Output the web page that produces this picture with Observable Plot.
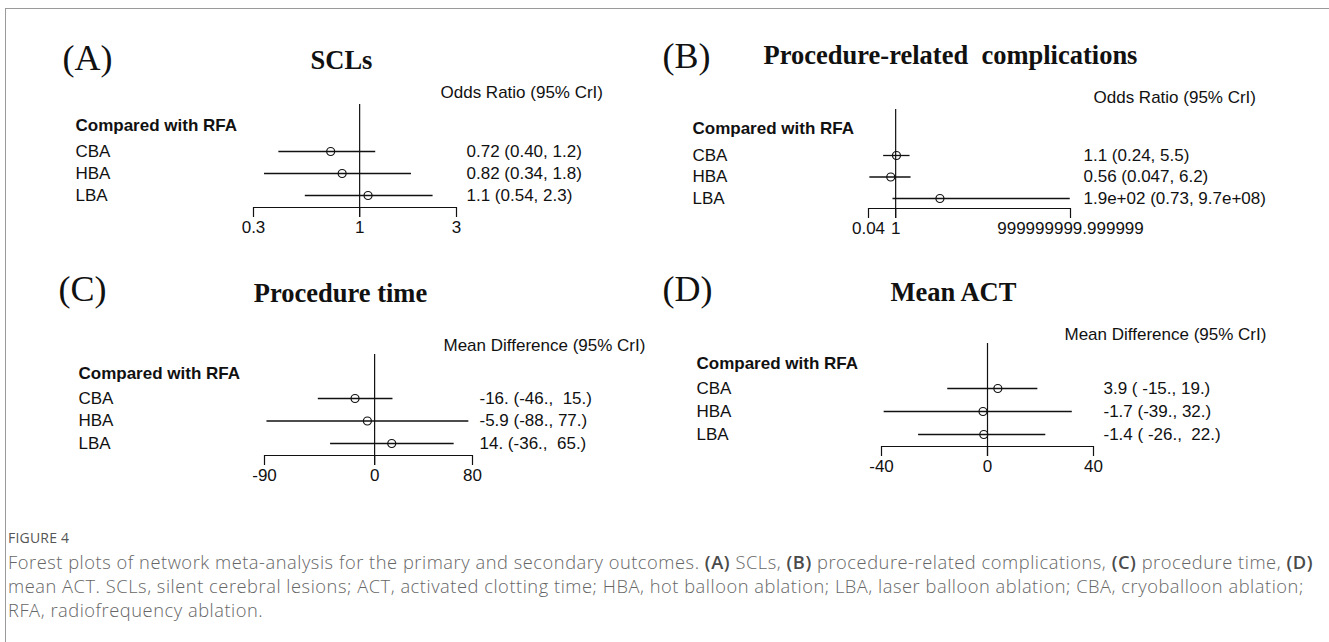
<!DOCTYPE html>
<html>
<head>
<meta charset="utf-8">
<script src="https://cdn.jsdelivr.net/npm/d3@7"></script>
<script src="https://cdn.jsdelivr.net/npm/@observablehq/plot@0.6"></script>
<style>
  html, body { margin: 0; padding: 0; background: #fff; }
  #page { position: relative; width: 1329px; height: 642px; overflow: hidden; background: #fff; }
  #topline { position: absolute; left: 5px; top: 8px; width: 1324px; height: 1px; background: #9a9a9a; }
  #leftline { position: absolute; left: 5px; top: 8px; width: 1px; height: 634px; background: #9a9a9a; }
  .panel { position: absolute; }
  .panel svg text { white-space: pre; }
  #caption { position: absolute; left: 8px; top: 524px; font-family: "Open Sans", "Noto Sans", sans-serif; color: #666; }
  #caption .fig { font-size: 14px; height: 24px; line-height: 24px; letter-spacing: 0.2px; color: #555; }
  #caption .fig span { display: inline-block; height: 17px; line-height: 17px; vertical-align: middle; }
  #caption .line { font-size: 16px; height: 24px; line-height: 24px; white-space: pre; font-weight: 300; }
  #caption .line span { display: inline-block; height: 18px; line-height: 18px; vertical-align: middle; white-space: pre; }
  #caption .b { font-weight: 600; color: #4a4a4a; }
</style>
</head>
<body>
<div id="page">
  <div id="topline"></div>
  <div id="leftline"></div>
  <div id="pA" class="panel"></div>
  <div id="pB" class="panel"></div>
  <div id="pC" class="panel"></div>
  <div id="pD" class="panel"></div>
  <div id="caption">
    <div class="fig"><span>FIGURE 4</span></div>
    <div class="line" id="line1"><span>Forest plots of network meta-analysis for the primary and secondary outcomes. </span><span class="b">(A)</span><span> SCLs, </span><span class="b">(B)</span><span> procedure-related complications, </span><span class="b">(C)</span><span> procedure time, </span><span class="b">(D)</span></div>
    <div class="line"><span>mean ACT. SCLs, silent cerebral lesions; ACT, activated clotting time; HBA, hot balloon ablation; LBA, laser balloon ablation; CBA, cryoballoon ablation;</span></div>
    <div class="line"><span>RFA, radiofrequency ablation.</span></div>
  </div>
</div>
<script>
// ---------- data ----------
const groups = ["CBA", "HBA", "LBA"];

// (A) SCLs – odds ratio
const sclEst = [0.72, 0.82, 1.1];
const sclLow = [0.40, 0.34, 0.54];
const sclHigh = [1.2, 1.8, 2.3];
const sclText = ["0.72 (0.40, 1.2)", "0.82 (0.34, 1.8)", "1.1 (0.54, 2.3)"];
const sclTicks = [0.3, 1, 3];
const sclTickLabels = ["0.3", "1", "3"];

// (B) Procedure-related complications – odds ratio
const compEst = [1.1, 0.56, 190];
const compLow = [0.24, 0.047, 0.73];
const compHigh = [5.5, 6.2, 9.7e8];
const compText = ["1.1 (0.24, 5.5)", "0.56 (0.047, 6.2)", "1.9e+02 (0.73, 9.7e+08)"];
const compTicks = [0.04, 1, 999999999.999999];
const compTickLabels = ["0.04", "1", "999999999.999999"];

// (C) Procedure time – mean difference
const timeEst = [-16, -5.9, 14];
const timeLow = [-46, -88, -36];
const timeHigh = [15, 77, 65];
const timeText = ["-16. (-46.,  15.)", "-5.9 (-88., 77.)", "14. (-36.,  65.)"];
const timeTicks = [-90, 0, 80];
const timeTickLabels = ["-90", "0", "80"];

// (D) Mean ACT – mean difference
const actEst = [3.9, -1.7, -1.4];
const actLow = [-15, -39, -26];
const actHigh = [19, 32, 22];
const actText = ["3.9 ( -15., 19.)", "-1.7 (-39., 32.)", "-1.4 ( -26.,  22.)"];
const actTicks = [-40, 0, 40];
const actTickLabels = ["-40", "0", "40"];

const panelTitles = ["SCLs", "Procedure-related  complications", "Procedure time", "Mean ACT"];
const panelLetters = ["(A)", "(B)", "(C)", "(D)"];
const measureHeaders = ["Odds Ratio (95% CrI)", "Odds Ratio (95% CrI)", "Mean Difference (95% CrI)", "Mean Difference (95% CrI)"];
const compareHeader = "Compared with RFA";

// ---------- layout (absolute page pixels, text positions are vertical centres) ----------
const layouts = [
  {id: "pA", left: 0, top: 0, w: 660, h: 250, xMin: 253, xMax: 456, refTop: 104, axisY: 207, rowY: [151, 195],
   letter: [62, 58], title: [341, 60], header: [440, 92], compared: [75, 125], labelX: 75, valueX: 466},
  {id: "pB", left: 660, top: 0, w: 669, h: 250, xMin: 868, xMax: 1070, refTop: 109, axisY: 208, rowY: [155, 198],
   letter: [662, 56], title: [950, 55], header: [1093, 97], compared: [692, 128], labelX: 692, valueX: 1083},
  {id: "pC", left: 0, top: 250, w: 660, h: 250, xMin: 264, xMax: 472, refTop: 354, axisY: 455, rowY: [398, 443],
   letter: [58, 289], title: [340, 293], header: [443, 345], compared: [78, 373], labelX: 78, valueX: 479},
  {id: "pD", left: 660, top: 250, w: 669, h: 250, xMin: 881, xMax: 1093, refTop: 343, axisY: 446, rowY: [388, 434],
   letter: [662, 289], title: [953, 292], header: [1064, 334], compared: [696, 363], labelX: 696, valueX: 1103}
];

const series = [
  {type: "log", ref: 1, est: sclEst, low: sclLow, high: sclHigh, text: sclText, ticks: sclTicks, tickLabels: sclTickLabels},
  {type: "log", ref: 1, est: compEst, low: compLow, high: compHigh, text: compText, ticks: compTicks, tickLabels: compTickLabels},
  {type: "linear", ref: 0, est: timeEst, low: timeLow, high: timeHigh, text: timeText, ticks: timeTicks, tickLabels: timeTickLabels},
  {type: "linear", ref: 0, est: actEst, low: actLow, high: actHigh, text: actText, ticks: actTicks, tickLabels: actTickLabels}
];

const SANS = "'Liberation Sans', Arial, Helvetica, sans-serif";
const SERIF = "'Liberation Serif', 'Times New Roman', serif";
const INK = "#111";
const TICK = 10;

function makePanel(k) {
  const L = layouts[k], S = series[k];
  const rows = groups.map((g, i) => ({g, i, est: S.est[i], low: S.low[i], high: S.high[i], label: S.text[i]}));
  const tickRows = S.ticks.map((v, i) => ({v, label: S.tickLabels[i]}));
  const ml = L.xMin - L.left, mr = L.left + L.w - L.xMax;
  const mt = L.refTop - L.top, mb = L.top + L.h - L.axisY;
  const fx = ax => ax - L.xMin;       // offset from frame left
  const fy = ay => ay - L.refTop;     // offset from frame top
  const last = groups.length - 1;
  const axisIndex = last * (L.axisY - L.rowY[0]) / (L.rowY[1] - L.rowY[0]);
  const txt = (s, pos, o) => Plot.text([s], Object.assign({text: d => d, frameAnchor: "top-left", lineAnchor: "middle",
                                         dx: fx(pos[0]), dy: fy(pos[1]), fill: INK}, o));

  const chart = Plot.plot({
    width: L.w, height: L.h,
    marginLeft: ml, marginRight: mr, marginTop: mt, marginBottom: mb,
    style: {fontFamily: SANS, fontSize: "17px", color: INK, background: "transparent", overflow: "visible"},
    x: {type: S.type, domain: [S.ticks[0], S.ticks[S.ticks.length - 1]]},
    y: {type: "linear", domain: [0, last], range: [L.rowY[0] - L.top, L.rowY[1] - L.top], axis: null},
    marks: [
      Plot.ruleY([axisIndex], {stroke: INK, strokeWidth: 1.2}),
      Plot.ruleX([S.ref], {stroke: INK, strokeWidth: 1.2, insetBottom: -TICK}),
      Plot.axisX({ticks: S.ticks, tickFormat: () => "", tickSize: TICK, stroke: INK, strokeWidth: 1.2}),
      Plot.text(tickRows, {x: "v", text: "label", frameAnchor: "bottom", lineAnchor: "top", dy: TICK + 3,
                           textAnchor: "middle", fontSize: 17, fill: INK}),
      Plot.ruleY(rows, {y: "i", x1: "low", x2: "high", stroke: INK, strokeWidth: 1.3}),
      Plot.dot(rows, {x: "est", y: "i", r: 4, stroke: INK, strokeWidth: 1.2, fill: "none"}),
      Plot.text(rows, {y: "i", text: "g", frameAnchor: "left", dx: fx(L.labelX), textAnchor: "start", fontSize: 17, fill: INK}),
      Plot.text(rows, {y: "i", text: "label", frameAnchor: "left", dx: fx(L.valueX), textAnchor: "start", fontSize: 17, fill: INK}),
      txt(compareHeader, L.compared, {textAnchor: "start", fontWeight: "bold", fontSize: 17}),
      txt(measureHeaders[k], L.header, {textAnchor: "start", fontSize: 17}),
      txt(panelLetters[k], L.letter, {textAnchor: "start", fontFamily: SERIF, fontSize: 36}),
      txt(panelTitles[k], L.title, {textAnchor: "middle", fontFamily: SERIF, fontWeight: "bold", fontSize: 26.5})
    ]
  });
  const host = document.getElementById(L.id);
  host.style.left = L.left + "px";
  host.style.top = L.top + "px";
  host.appendChild(chart);
}

[0, 1, 2, 3].forEach(makePanel);

// fit caption: slightly smaller font, then letter-spacing so line 1 spans the figure's width
const line1 = document.getElementById("line1");
const lines = document.querySelectorAll("#caption .line");
const target = 1305;
const measure = () => { let w = 0; line1.querySelectorAll("span").forEach(s => { w += s.getBoundingClientRect().width; }); return w; };
const w1 = measure();
if (w1 > 0) {
  const fs = 16 * target / w1 * 0.94;
  lines.forEach(el => { el.style.fontSize = fs.toFixed(2) + "px"; });
  const w2 = measure();
  const n = line1.textContent.length;
  const ls = Math.max(0, (target - w2) / n);
  lines.forEach(el => { el.style.letterSpacing = ls.toFixed(3) + "px"; });
}
</script>
</body>
</html>
